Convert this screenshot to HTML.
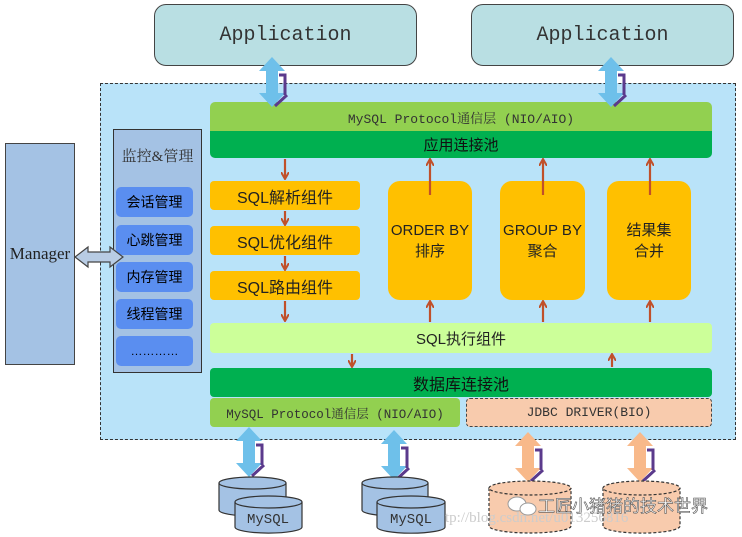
<!DOCTYPE html>
<html><head><meta charset="utf-8">
<style>
html,body{margin:0;padding:0;background:#fff;}
body{width:742px;height:537px;overflow:hidden;position:relative;font-family:"Liberation Sans","Noto Sans CJK SC",sans-serif;}
.a{position:absolute;box-sizing:border-box;display:flex;align-items:center;justify-content:center;text-align:center;}
.mono{font-family:"Liberation Mono","Noto Serif CJK SC",monospace;}
</style></head><body>
<div class="a" style="left:100px;top:83px;width:636px;height:357px;background:#b9e3f9;border:1px dashed #333;"></div>
<div class="a mono" style="left:154px;top:4px;width:263px;height:62px;background:#b9dfe3;border:1.5px solid #444;border-radius:12px;font-size:20px;color:#333;">Application</div>
<div class="a mono" style="left:471px;top:4px;width:263px;height:62px;background:#b9dfe3;border:1.5px solid #444;border-radius:12px;font-size:20px;color:#333;">Application</div>
<div class="a mono" style="left:210px;top:102px;width:502px;height:30px;background:#92d050;border-radius:5px 5px 0 0;font-size:13px;color:#333;">MySQL Protocol通信层 (NIO/AIO)</div>
<div class="a" style="left:210px;top:131px;width:502px;height:27px;background:#00b050;border-radius:0 0 5px 5px;font-size:15px;color:#111;">应用连接池</div>
<div class="a" style="left:5px;top:143px;width:70px;height:222px;background:#a4c2e4;border:1px solid #444;font-family:'Liberation Serif',serif;font-size:17px;color:#222;">Manager</div>
<div class="a" style="left:113px;top:129px;width:89px;height:244px;background:#a4c2e4;border:1px solid #333;align-items:flex-start;padding-top:15px;font-family:'Liberation Serif','Noto Serif CJK SC',serif;font-size:15px;color:#333;">监控&amp;管理</div>
<div class="a" style="left:116px;top:187px;width:77px;height:30px;background:#5a8ef0;border-radius:5px;font-size:14px;">会话管理</div>
<div class="a" style="left:116px;top:225px;width:77px;height:30px;background:#5a8ef0;border-radius:5px;font-size:14px;">心跳管理</div>
<div class="a" style="left:116px;top:262px;width:77px;height:30px;background:#5a8ef0;border-radius:5px;font-size:14px;">内存管理</div>
<div class="a" style="left:116px;top:299px;width:77px;height:30px;background:#5a8ef0;border-radius:5px;font-size:14px;">线程管理</div>
<div class="a" style="left:116px;top:336px;width:77px;height:30px;background:#5a8ef0;border-radius:5px;font-size:12px;">…………</div>
<div class="a" style="left:210px;top:181px;width:150px;height:29px;background:#ffc000;border-radius:4px;font-size:16px;color:#222;">SQL解析组件</div>
<div class="a" style="left:210px;top:226px;width:150px;height:29px;background:#ffc000;border-radius:4px;font-size:16px;color:#222;">SQL优化组件</div>
<div class="a" style="left:210px;top:271px;width:150px;height:29px;background:#ffc000;border-radius:4px;font-size:16px;color:#222;">SQL路由组件</div>
<div class="a" style="left:388px;top:181px;width:84px;height:119px;background:#ffc000;border-radius:12px;font-size:15px;line-height:21px;color:#222;">ORDER BY<br>排序</div>
<div class="a" style="left:500px;top:181px;width:85px;height:119px;background:#ffc000;border-radius:12px;font-size:15px;line-height:21px;color:#222;">GROUP BY<br>聚合</div>
<div class="a" style="left:607px;top:181px;width:84px;height:119px;background:#ffc000;border-radius:12px;font-size:15px;line-height:21px;color:#222;">结果集<br>合并</div>
<div class="a" style="left:210px;top:323px;width:502px;height:30px;background:#ccff99;border-radius:4px;font-size:15px;color:#222;">SQL执行组件</div>
<div class="a" style="left:210px;top:368px;width:502px;height:29px;background:#00b050;border-radius:4px;font-size:16px;color:#111;">数据库连接池</div>
<div class="a mono" style="left:210px;top:398px;width:250px;height:29px;background:#92d050;border-radius:4px;font-size:12.5px;color:#333;white-space:nowrap;">MySQL Protocol通信层 (NIO/AIO)</div>
<div class="a mono" style="left:466px;top:398px;width:246px;height:29px;background:#f8cbad;border:1px dashed #444;border-radius:4px;font-size:13px;color:#333;">JDBC DRIVER(BIO)</div>
<svg width="742" height="537" style="position:absolute;left:0;top:0;" xmlns="http://www.w3.org/2000/svg">
<defs>
<marker id="m" markerWidth="8" markerHeight="8" refX="6" refY="4" orient="auto" markerUnits="userSpaceOnUse"><path d="M0,0 L7,4 L0,8" fill="none" stroke="#c0502a" stroke-width="2"/></marker>
<g id="da"><path d="M0,-25 L13,-11 L6,-11 L6,11 L13,11 L0,25 L-13,11 L-6,11 L-6,-11 L-13,-11 Z"/></g>
</defs>
<g stroke="#c0502a" stroke-width="2.2" marker-end="url(#m)">
<line x1="285" y1="159" x2="285" y2="178"/>
<line x1="285" y1="211" x2="285" y2="224"/>
<line x1="285" y1="256" x2="285" y2="269"/>
<line x1="285" y1="301" x2="285" y2="320"/>
<line x1="352" y1="354" x2="352" y2="366"/>
<line x1="430" y1="195" x2="430" y2="160"/>
<line x1="543" y1="195" x2="543" y2="160"/>
<line x1="650" y1="195" x2="650" y2="160"/>
<line x1="430" y1="322" x2="430" y2="302"/>
<line x1="543" y1="322" x2="543" y2="302"/>
<line x1="650" y1="322" x2="650" y2="302"/>
<line x1="612" y1="367" x2="612" y2="355"/>
</g>
<path d="M75,257 L88,247 L88,252 L110,252 L110,247 L123,257 L110,267 L110,262 L88,262 L88,267 Z" fill="#b8cce4" stroke="#444" stroke-width="1.2"/>
<g fill="#6ec0ea">
<use href="#da" transform="translate(272,82)"/>
<use href="#da" transform="translate(611,82)"/>
<use href="#da" transform="translate(249,452)"/>
<use href="#da" transform="translate(394,455)"/>
</g>
<g fill="#f8b98a">
<use href="#da" transform="translate(528,457)"/>
<use href="#da" transform="translate(640,457)"/>
</g>
<g stroke="#5b3a8c" stroke-width="3" fill="none">
<path d="M279,75 L285,75 L285,95 M287,95 L275,106"/>
<path d="M618,75 L624,75 L624,95 M626,95 L614,106"/>
<path d="M256,445 L262,445 L262,465 M264,465 L252,476"/>
<path d="M401,448 L407,448 L407,468 M409,468 L397,479"/>
<path d="M535,450 L541,450 L541,470 M543,470 L531,481"/>
<path d="M647,450 L653,450 L653,470 M655,470 L643,481"/>
</g>
<g stroke="#333" stroke-width="1.2" fill="#a4c2e4">
<path d="M219,483 L219,510 A33,6 0 0 0 286,510 L286,483"/><ellipse cx="252.5" cy="483" rx="33.5" ry="6"/>
<path d="M235,502 L235,527 A33,6 0 0 0 302,527 L302,502"/><ellipse cx="268.5" cy="502" rx="33.5" ry="6"/>
<path d="M362,483 L362,510 A33,6 0 0 0 428,510 L428,483"/><ellipse cx="395" cy="483" rx="33" ry="6"/>
<path d="M377,502 L377,527 A33,6 0 0 0 445,527 L445,502"/><ellipse cx="411" cy="502" rx="34" ry="6"/>
</g>
<g stroke="#333" stroke-width="1.2" fill="#f8cbad" stroke-dasharray="3,2">
<path d="M489,488 L489,526 A41,7 0 0 0 571,526 L571,488"/><ellipse cx="530" cy="488" rx="41" ry="7"/>
<path d="M603,488 L603,526 A38,7 0 0 0 680,526 L680,488"/><ellipse cx="641.5" cy="488" rx="38.5" ry="7"/>
</g>
<g font-family="Liberation Mono, monospace" font-size="14" fill="#333" text-anchor="middle">
<text x="268" y="523">MySQL</text><text x="411" y="523">MySQL</text>
</g>
<text x="445" y="522" font-family="Liberation Serif, serif" font-size="15" fill="#ccc">tp://blog.csdn.net/u013256816</text>
<g fill="#fff" stroke="#999" stroke-width="1"><ellipse cx="517" cy="504" rx="9" ry="7"/><ellipse cx="528" cy="509" rx="8" ry="6"/></g>
<text x="538" y="512" font-family="Noto Sans CJK SC, sans-serif" font-size="17" fill="#fff" stroke="#555" stroke-width="0.6">工匠小猪猪的技术世界</text>
</svg>
</body></html>
